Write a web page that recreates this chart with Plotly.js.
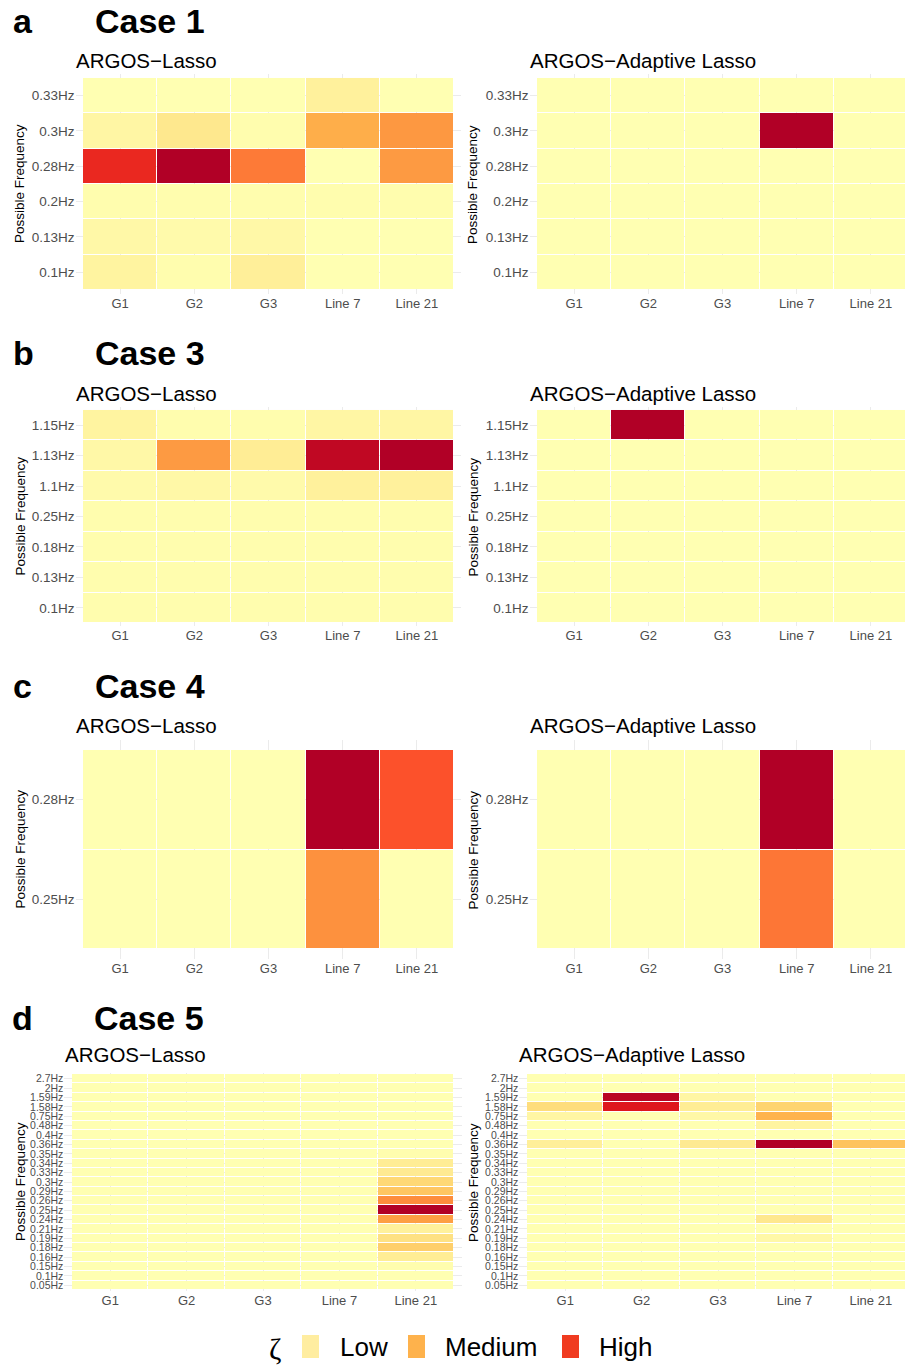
<!DOCTYPE html>
<html>
<head>
<meta charset="utf-8">
<script src="https://cdn.plot.ly/plotly-3.0.1.min.js"></script>
<style>html,body{margin:0;padding:0;background:#fff;}#chart{width:905px;height:1369px;}</style>
</head>
<body>
<div id="chart"></div>
<script>
// ---------------- DATA ----------------
const groups = ["G1", "G2", "G3", "Line 7", "Line 21"];

const case1Freq = ["0.33Hz", "0.3Hz", "0.28Hz", "0.2Hz", "0.13Hz", "0.1Hz"];
const case1Lasso = [
  [0.00, 0.00, 0.00, 0.06, 0.00],
  [0.04, 0.10, 0.01, 0.35, 0.45],
  [0.79, 1.00, 0.55, 0.00, 0.44],
  [0.01, 0.01, 0.01, 0.01, 0.01],
  [0.03, 0.02, 0.03, 0.00, 0.00],
  [0.05, 0.01, 0.07, 0.00, 0.00]
];
const case1Adaptive = [
  [0, 0, 0, 0, 0],
  [0, 0, 0, 1, 0],
  [0, 0, 0, 0, 0],
  [0, 0, 0, 0, 0],
  [0, 0, 0, 0, 0],
  [0, 0, 0, 0, 0]
];

const case3Freq = ["1.15Hz", "1.13Hz", "1.1Hz", "0.25Hz", "0.18Hz", "0.13Hz", "0.1Hz"];
const case3Lasso = [
  [0.05, 0.01, 0.01, 0.04, 0.04],
  [0.03, 0.44, 0.08, 0.95, 1.00],
  [0.02, 0.03, 0.02, 0.06, 0.06],
  [0.01, 0.01, 0.01, 0.01, 0.01],
  [0.01, 0.01, 0.01, 0.01, 0.01],
  [0.01, 0.01, 0.01, 0.01, 0.01],
  [0.01, 0.01, 0.01, 0.01, 0.01]
];
const case3Adaptive = [
  [0, 1, 0, 0, 0],
  [0, 0, 0, 0, 0],
  [0, 0, 0, 0, 0],
  [0, 0, 0, 0, 0],
  [0, 0, 0, 0, 0],
  [0, 0, 0, 0, 0],
  [0, 0, 0, 0, 0]
];

const case4Freq = ["0.28Hz", "0.25Hz"];
const case4Lasso = [
  [0, 0, 0, 1.00, 0.66],
  [0, 0, 0, 0.48, 0.00]
];
const case4Adaptive = [
  [0, 0, 0, 1.00, 0],
  [0, 0, 0, 0.56, 0]
];

const case5Freq = ["2.7Hz", "2Hz", "1.59Hz", "1.58Hz", "0.75Hz", "0.48Hz", "0.4Hz", "0.36Hz",
  "0.35Hz", "0.34Hz", "0.33Hz", "0.3Hz", "0.29Hz", "0.26Hz", "0.25Hz", "0.24Hz", "0.21Hz",
  "0.19Hz", "0.18Hz", "0.16Hz", "0.15Hz", "0.1Hz", "0.05Hz"];
const case5Lasso = [
  [0, 0, 0, 0, 0.00],
  [0, 0, 0, 0, 0.00],
  [0, 0, 0, 0, 0.00],
  [0, 0, 0, 0, 0.00],
  [0, 0, 0, 0, 0.00],
  [0, 0, 0, 0, 0.00],
  [0, 0, 0, 0, 0.00],
  [0, 0, 0, 0, 0.00],
  [0, 0, 0, 0, 0.01],
  [0, 0, 0, 0, 0.08],
  [0, 0, 0, 0, 0.09],
  [0, 0, 0, 0, 0.17],
  [0, 0, 0, 0, 0.25],
  [0, 0, 0, 0, 0.50],
  [0, 0, 0, 0, 1.00],
  [0, 0, 0, 0, 0.42],
  [0, 0, 0, 0, 0.06],
  [0, 0, 0, 0, 0.13],
  [0, 0, 0, 0, 0.21],
  [0, 0, 0, 0, 0.08],
  [0, 0, 0, 0, 0.01],
  [0, 0, 0, 0, 0.00],
  [0, 0, 0, 0, 0.00]
];
const case5Adaptive = [
  [0.00, 0.00, 0.00, 0.00, 0.00],
  [0.00, 0.00, 0.00, 0.00, 0.00],
  [0.00, 0.97, 0.04, 0.00, 0.00],
  [0.15, 0.85, 0.08, 0.19, 0.00],
  [0.04, 0.00, 0.03, 0.33, 0.00],
  [0.00, 0.00, 0.00, 0.05, 0.00],
  [0.00, 0.00, 0.00, 0.00, 0.00],
  [0.07, 0.00, 0.09, 1.00, 0.26],
  [0.00, 0.00, 0.00, 0.00, 0.00],
  [0.00, 0.00, 0.00, 0.00, 0.00],
  [0.00, 0.00, 0.00, 0.00, 0.00],
  [0.00, 0.00, 0.00, 0.00, 0.00],
  [0.00, 0.00, 0.00, 0.00, 0.00],
  [0.00, 0.00, 0.00, 0.00, 0.00],
  [0.00, 0.00, 0.00, 0.00, 0.00],
  [0.00, 0.00, 0.00, 0.10, 0.00],
  [0.00, 0.00, 0.00, 0.00, 0.00],
  [0.00, 0.00, 0.00, 0.03, 0.00],
  [0.00, 0.00, 0.00, 0.00, 0.00],
  [0.00, 0.00, 0.00, 0.00, 0.00],
  [0.00, 0.00, 0.00, 0.00, 0.00],
  [0.00, 0.00, 0.00, 0.00, 0.00],
  [0.00, 0.00, 0.00, 0.00, 0.00]
];

const caseTitles = ["Case 1", "Case 3", "Case 4", "Case 5"];
const panelLetters = ["a", "b", "c", "d"];
const methodTitles = ["ARGOS\u2212Lasso", "ARGOS\u2212Adaptive Lasso"];
const yTitle = "Possible Frequency";
const legendTitle = "\u03B6";
const legendLabels = ["Low", "Medium", "High"];
const legendColors = ["#ffeda0", "#feb24c", "#f03b20"];

// ---------------- LAYOUT HELPERS ----------------
const W = 905, H = 1369;
const colorscale = [
  [0, "#ffffb2"], [1/6, "#fed976"], [2/6, "#feb24c"], [3/6, "#fd8d3c"],
  [4/6, "#fc4e2a"], [5/6, "#e31a1c"], [1, "#b10026"]
];
const FONT = "Liberation Sans, Arial, Helvetica, sans-serif";

// tile rectangles in pixels: [x0, x1, y0, y1]
const rows = [
  {freq: case1Freq, z: [case1Lasso, case1Adaptive], tiles: [[83, 454, 78, 290], [537, 908, 78, 290]], ytick: 13.5,
   caseY: 21, subY: 60, subX: [74, 528], letterX: 11, caseX: 93, yTitleX: [20, 473]},
  {freq: case3Freq, z: [case3Lasso, case3Adaptive], tiles: [[83, 454, 410, 623], [537, 908, 410, 623]], ytick: 13.5,
   caseY: 353, subY: 393, subX: [74, 528], letterX: 11, caseX: 93, yTitleX: [20, 473]},
  {freq: case4Freq, z: [case4Lasso, case4Adaptive], tiles: [[83, 454, 750, 949], [537, 908, 750, 949]], ytick: 13.5,
   caseY: 686, subY: 725, subX: [74, 528], letterX: 11, caseX: 93, yTitleX: [20, 473]},
  {freq: case5Freq, z: [case5Lasso, case5Adaptive], tiles: [[72, 454, 1074, 1290], [527, 909, 1074, 1290]], ytick: 10.5,
   caseY: 1018, subY: 1054, subX: [63, 517], letterX: 10, caseX: 92, yTitleX: [20, 473]}
];

const data = [];
const layout = {
  width: W, height: H,
  margin: {l: 0, r: 0, t: 0, b: 0},
  paper_bgcolor: "#ffffff", plot_bgcolor: "#ffffff",
  showlegend: false,
  font: {family: FONT, color: "#000"},
  annotations: [], shapes: []
};

let k = 0;
rows.forEach((row, ri) => {
  for (let ci = 0; ci < 2; ci++) {
    k++;
    const t = row.tiles[ci];
    const nx = groups.length, ny = row.freq.length;
    const cw = (t[1] - t[0]) / nx, ch = (t[3] - t[2]) / ny;
    const x0 = t[0] - 0.1 * cw;
    const x1 = Math.min(t[1] + 0.1 * cw, W);
    const y0 = t[2] - 0.1 * ch, y1 = t[3] + 0.1 * ch;
    const sfx = (k === 1 ? "" : String(k));
    data.push({
      type: "heatmap",
      x: groups, y: row.freq, z: row.z[ci],
      xaxis: "x" + sfx, yaxis: "y" + sfx,
      colorscale: colorscale, zmin: 0, zmax: 1, showscale: false,
      xgap: 1, ygap: 1, hoverongaps: false
    });
    layout["xaxis" + sfx] = {
      domain: [x0 / W, x1 / W],
      anchor: "y" + sfx,
      type: "category", categoryorder: "array", categoryarray: groups,
      range: [-0.6, -0.6 + (x1 - x0) / cw],
      tickmode: "linear", tick0: 0, dtick: 1,
      showgrid: true, gridcolor: "#ebebeb", gridwidth: 1,
      zeroline: false, showline: false, ticks: "",
      tickfont: {size: 13, color: "#4d4d4d", family: FONT},
      fixedrange: true
    };
    layout["yaxis" + sfx] = {
      domain: [1 - y1 / H, 1 - y0 / H],
      anchor: "x" + sfx,
      type: "category", categoryorder: "array", categoryarray: row.freq,
      range: [ny - 0.4, -0.6],
      tickmode: "linear", tick0: 0, dtick: 1,
      showgrid: true, gridcolor: "#ebebeb", gridwidth: 1,
      zeroline: false, showline: false, ticks: "",
      tickfont: {size: row.ytick, color: "#4d4d4d", family: FONT},
      fixedrange: true
    };
    // method subtitle
    layout.annotations.push({
      text: methodTitles[ci], xref: "paper", yref: "paper",
      x: row.subX[ci] / W, y: 1 - row.subY / H, xanchor: "left", yanchor: "middle",
      showarrow: false, font: {size: 20.5, color: "#000", family: FONT}
    });
    // y axis title
    layout.annotations.push({
      text: yTitle, xref: "paper", yref: "paper",
      x: row.yTitleX[ci] / W, y: 1 - ((t[2] + t[3]) / 2) / H, xanchor: "center", yanchor: "middle",
      textangle: -90, showarrow: false, font: {size: 13.5, color: "#000", family: FONT}
    });
  }
  layout.annotations.push({
    text: "<b>" + panelLetters[ri] + "</b>", xref: "paper", yref: "paper",
    x: row.letterX / W, y: 1 - row.caseY / H, xanchor: "left", yanchor: "middle",
    showarrow: false, font: {size: 34, color: "#000", family: FONT}
  });
  layout.annotations.push({
    text: "<b>" + caseTitles[ri] + "</b>", xref: "paper", yref: "paper",
    x: row.caseX / W, y: 1 - row.caseY / H, xanchor: "left", yanchor: "middle",
    showarrow: false, font: {size: 34, color: "#000", family: FONT}
  });
});

// legend
layout.annotations.push({
  text: legendTitle, xref: "paper", yref: "paper",
  x: 275 / W, y: 1 - 1348 / H, xanchor: "center", yanchor: "middle",
  showarrow: false, font: {size: 30, color: "#000", family: "Liberation Serif, DejaVu Serif, serif"}
});
const swX = [302, 408, 562], lblX = [338, 443, 597];
legendLabels.forEach((lab, i) => {
  layout.shapes.push({
    type: "rect", xref: "paper", yref: "paper",
    x0: swX[i] / W, x1: (swX[i] + 17) / W, y0: 1 - 1358 / H, y1: 1 - 1335 / H,
    fillcolor: legendColors[i], line: {width: 0}
  });
  layout.annotations.push({
    text: lab, xref: "paper", yref: "paper",
    x: lblX[i] / W, y: 1 - 1347 / H, xanchor: "left", yanchor: "middle",
    showarrow: false, font: {size: 26, color: "#000", family: FONT}
  });
});

Plotly.newPlot("chart", data, layout, {displayModeBar: false, staticPlot: true});
</script>
</body>
</html>
